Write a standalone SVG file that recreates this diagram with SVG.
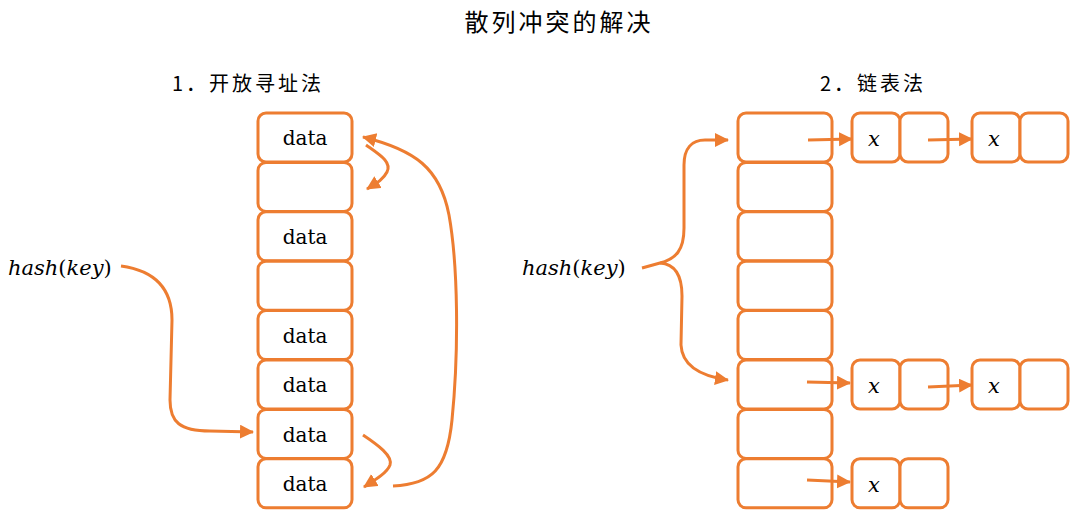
<svg xmlns="http://www.w3.org/2000/svg" width="1088" height="527" viewBox="0 0 1088 527">
<defs>
<style>
.cell{fill:#fff;stroke:#ED7D31;stroke-width:3}
.con{fill:none;stroke:#ED7D31;stroke-width:3}
.t{font-family:"DejaVu Serif","Liberation Serif",serif;font-size:20px;fill:#000;text-anchor:middle}
.m{font-family:"DejaVu Serif","Liberation Serif",serif;font-style:italic;font-size:21px;fill:#000}
.u{font-style:normal}
.cn{font-family:"Noto Sans CJK SC","Noto Sans",sans-serif;fill:#000}
</style>
<marker id="ah" markerUnits="userSpaceOnUse" markerWidth="16" markerHeight="16" refX="13" refY="7" orient="auto">
<path d="M0,0 L14,7 L0,14 z" fill="#ED7D31"/>
</marker>
</defs>
<rect width="1088" height="527" fill="#fff"/>
<text class="cn" x="559" y="31" font-size="24" text-anchor="middle" letter-spacing="3">散列冲突的解决</text>
<text class="cn" x="172" y="91" font-size="20" letter-spacing="3">1．开放寻址法</text>
<text class="cn" x="820" y="91" font-size="20" letter-spacing="3">2．链表法</text>

<g id="open-table">
<rect class="cell" x="258" y="113" width="94" height="49" rx="8"/>
<rect class="cell" x="258" y="162.4" width="94" height="49" rx="8"/>
<rect class="cell" x="258" y="211.8" width="94" height="49" rx="8"/>
<rect class="cell" x="258" y="261.2" width="94" height="49" rx="8"/>
<rect class="cell" x="258" y="310.6" width="94" height="49" rx="8"/>
<rect class="cell" x="258" y="360" width="94" height="49" rx="8"/>
<rect class="cell" x="258" y="409.4" width="94" height="49" rx="8"/>
<rect class="cell" x="258" y="458.8" width="94" height="49" rx="8"/>
<text class="t" x="305" y="145">data</text>
<text class="t" x="305" y="244">data</text>
<text class="t" x="305" y="343">data</text>
<text class="t" x="305" y="392">data</text>
<text class="t" x="305" y="442">data</text>
<text class="t" x="305" y="491">data</text>
</g>
<g id="hash-left"><text class="m" x="8" y="275">hash<tspan class="u">(</tspan>key<tspan class="u">)</tspan></text></g>

<g id="chain-table">
<rect class="cell" x="738" y="113" width="94" height="49" rx="8"/>
<rect class="cell" x="738" y="162.4" width="94" height="49" rx="8"/>
<rect class="cell" x="738" y="211.8" width="94" height="49" rx="8"/>
<rect class="cell" x="738" y="261.2" width="94" height="49" rx="8"/>
<rect class="cell" x="738" y="310.6" width="94" height="49" rx="8"/>
<rect class="cell" x="738" y="360" width="94" height="49" rx="8"/>
<rect class="cell" x="738" y="409.4" width="94" height="49" rx="8"/>
<rect class="cell" x="738" y="458.8" width="94" height="49" rx="8"/>
</g>
<g id="hash-right"><text class="m" x="522" y="275">hash<tspan class="u">(</tspan>key<tspan class="u">)</tspan></text></g>

<g id="node-r1a"><rect class="cell" x="852" y="113" width="48" height="49" rx="8"/><rect class="cell" x="900" y="113" width="48" height="49" rx="8"/><text class="m" x="874" y="146" text-anchor="middle">x</text></g>
<g id="node-r1b"><rect class="cell" x="972" y="113" width="48" height="49" rx="8"/><rect class="cell" x="1020" y="113" width="48" height="49" rx="8"/><text class="m" x="994" y="146" text-anchor="middle">x</text></g>
<g id="node-r6a"><rect class="cell" x="852" y="360" width="48" height="49" rx="8"/><rect class="cell" x="900" y="360" width="48" height="49" rx="8"/><text class="m" x="874" y="393" text-anchor="middle">x</text></g>
<g id="node-r6b"><rect class="cell" x="972" y="360" width="48" height="49" rx="8"/><rect class="cell" x="1020" y="360" width="48" height="49" rx="8"/><text class="m" x="994" y="393" text-anchor="middle">x</text></g>
<g id="node-r8a"><rect class="cell" x="852" y="458.8" width="48" height="49" rx="8"/><rect class="cell" x="900" y="458.8" width="48" height="49" rx="8"/><text class="m" x="874" y="492" text-anchor="middle">x</text></g>

<g id="connectors">
<path class="con" marker-end="url(#ah)" d="M121,266 C150,270 172,285 172,320 L170,400 C170,422 180,431 210,431 L253,432"/>
<path class="con" marker-end="url(#ah)" d="M366,145 C380,155 392,162 387,172 C383,180 375,184 367,189"/>
<path class="con" marker-end="url(#ah)" d="M363,435 C378,445 393,456 390,465 C387,473 375,480 364,487"/>
<path class="con" marker-end="url(#ah)" d="M393,486 C432,484 447,470 452,420 C459,350 458,265 449,215 C440,168 415,150 363,137"/>
<path class="con" marker-end="url(#ah)" d="M642,268 L660,263 C676,259 684,250 684,228 L684,165 C684,148 692,140 705,140 L728,140"/>
<path class="con" marker-end="url(#ah)" d="M660,263 C676,264 682,276 682,296 L681,345 C682,366 700,376 728,380"/>
<path class="con" marker-end="url(#ah)" d="M808,140 L852,139"/>
<path class="con" marker-end="url(#ah)" d="M928,140 L972,139"/>
<path class="con" marker-end="url(#ah)" d="M807,382 L850,383"/>
<path class="con" marker-end="url(#ah)" d="M928,387 L972,385"/>
<path class="con" marker-end="url(#ah)" d="M807,480 L850,482"/>
</g>
</svg>
